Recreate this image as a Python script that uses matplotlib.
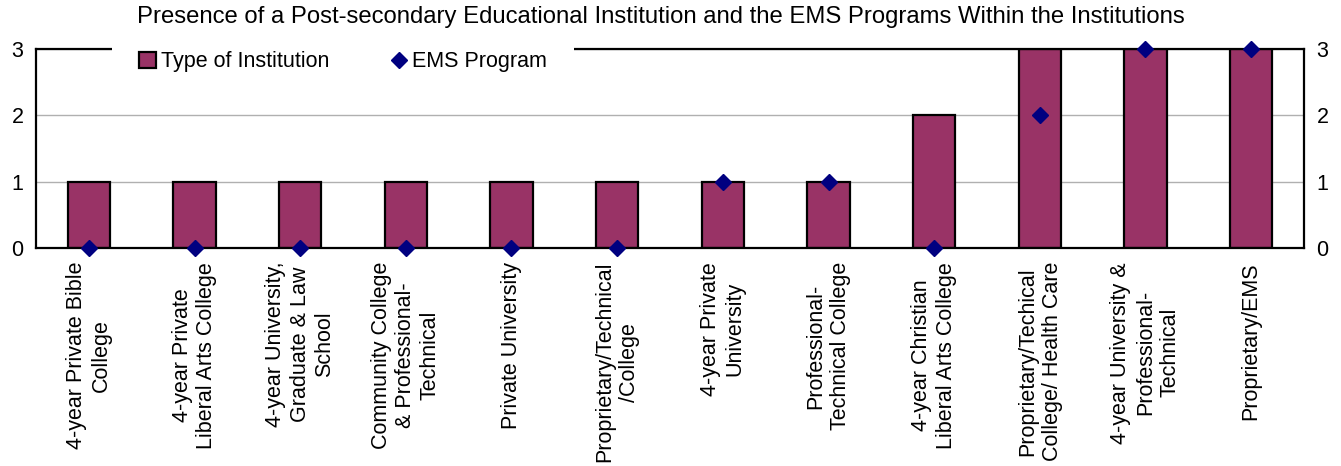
import numpy as np
import matplotlib
matplotlib.use("Agg")
import matplotlib.pyplot as plt
from matplotlib.patches import Patch
from matplotlib.lines import Line2D

plt.rcParams['font.family'] = ['Liberation Sans', 'DejaVu Sans']

# data
institutions = [
    "4-year Private Bible\nCollege",
    "4-year Private\nLiberal Arts College",
    "4-year University,\nGraduate & Law\nSchool",
    "Community College\n& Professional-\nTechnical",
    "Private University",
    "Proprietary/Technical\n/College",
    "4-year Private\nUniversity",
    "Professional-\nTechnical College",
    "4-year Christian\nLiberal Arts College",
    "Proprietary/Techical\nCollege/ Health Care",
    "4-year University &\nProfessional-\nTechnical",
    "Proprietary/EMS",
]
type_of_institution = [1, 1, 1, 1, 1, 1, 1, 1, 2, 3, 3, 3]
ems_program = [0, 0, 0, 0, 0, 0, 1, 1, 0, 2, 3, 3]

bar_color = "#993366"
diamond_color = "#000080"
fs = 15.5

fig = plt.figure(figsize=(13.41, 4.66), dpi=100)
ax = fig.add_axes([36 / 1341, 1 - 248 / 466, (1304 - 36) / 1341, (248 - 49) / 466])

x = np.arange(len(institutions))
ax.bar(x, type_of_institution, width=0.4, color=bar_color,
       edgecolor="black", linewidth=1.6, zorder=2)
ax.plot(x, ems_program, linestyle="none", marker="D", markersize=8,
        color=diamond_color, clip_on=False, zorder=4)

ax.set_xlim(-0.5, len(institutions) - 0.5)
ax.set_ylim(0, 3)
ax.set_yticks([0, 1, 2, 3])
ax.yaxis.grid(True, color="#b0b0b0", linewidth=1)
ax.set_axisbelow(True)

ax.set_xticks(x)
ax.set_xticklabels(institutions, rotation=90, fontsize=fs,
                   linespacing=1.22, ha="center", va="top")
ax.tick_params(axis="x", length=0, pad=10)
ax.tick_params(axis="y", length=0, pad=9, labelsize=fs,
               labelleft=True, labelright=True)

for s in ax.spines.values():
    s.set_linewidth(1.6)
    s.set_color("black")

handles = [
    Patch(facecolor=bar_color, edgecolor="black", linewidth=1.6),
    Line2D([], [], linestyle="none", marker="D", markersize=8,
           color=diamond_color),
]
leg = ax.legend(handles, ["Type of Institution", "EMS Program"], ncol=2,
                loc="center", bbox_to_anchor=((343 - 36) / 1268, 0.935),
                fontsize=fs, frameon=True, fancybox=False, framealpha=1,
                facecolor="white", edgecolor="none", borderpad=1.25,
                handlelength=0.8, handleheight=0.8, handletextpad=0.25,
                columnspacing=2.8)

fig.suptitle("Presence of a Post-secondary Educational Institution and the "
             "EMS Programs Within the Institutions",
             x=661 / 1341, y=1 - 17 / 466, va="center", fontsize=17.2)

fig.savefig("out.png", dpi=100, facecolor="white")
